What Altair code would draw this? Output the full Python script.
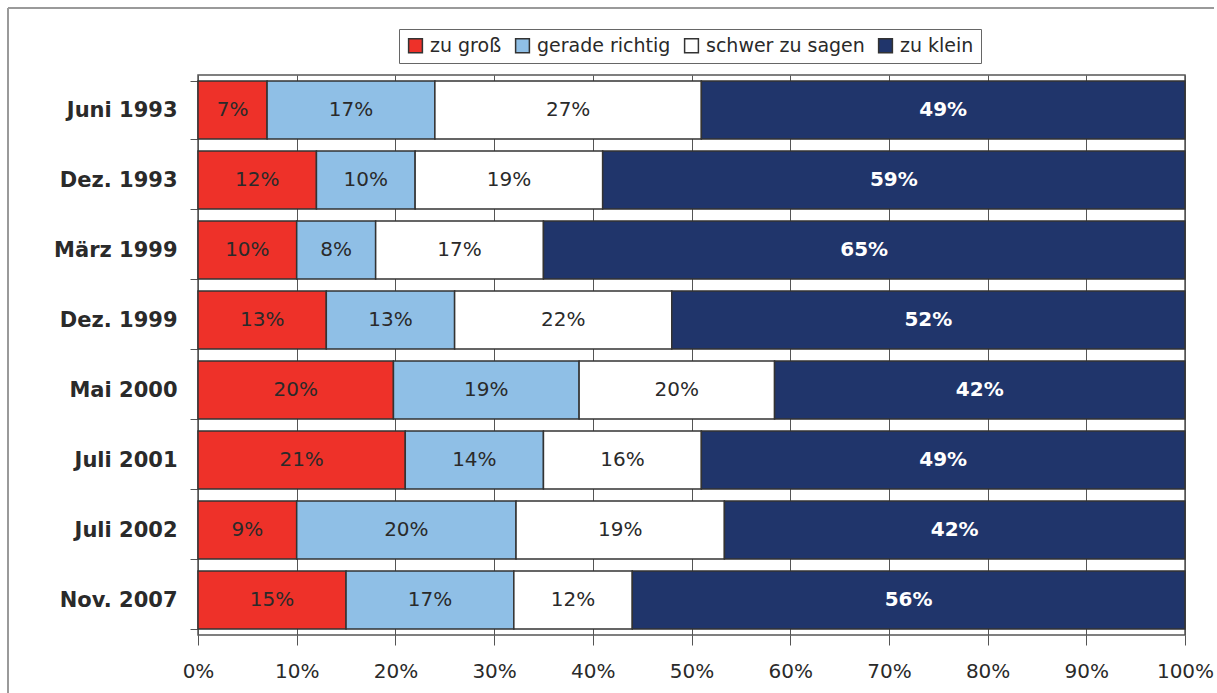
import altair as alt
import pandas as pd

# Survey waves (top to bottom) and answer shares in percent
waves = ["Juni 1993", "Dez. 1993", "März 1999", "Dez. 1999",
         "Mai 2000", "Juli 2001", "Juli 2002", "Nov. 2007"]
zu_gross = [7, 12, 10, 13, 20, 21, 9, 15]
gerade_richtig = [17, 10, 8, 13, 19, 14, 20, 17]
schwer_zu_sagen = [27, 19, 17, 22, 20, 16, 19, 12]
zu_klein = [49, 59, 65, 52, 42, 49, 42, 56]

answers = ["zu groß", "gerade richtig", "schwer zu sagen", "zu klein"]
colors = ["#EE3129", "#8FBFE6", "#FFFFFF", "#20356B"]
series = [zu_gross, gerade_richtig, schwer_zu_sagen, zu_klein]

rows = []
for k, (name, vals) in enumerate(zip(answers, series)):
    for w, v in zip(waves, vals):
        rows.append({"wave": w, "answer": name, "k": k, "value": v})
df = pd.DataFrame(rows)

FONT = "DejaVu Sans"
TEXT = "#2a2a2a"

base = alt.Chart(df)

y_enc = alt.Y(
    "wave:N", sort=waves, title=None,
    scale=alt.Scale(paddingInner=0.17, paddingOuter=0.085),
    axis=alt.Axis(labelFont=FONT, labelFontSize=21, labelFontWeight="bold",
                  labelColor=TEXT, labelPadding=13, tickBand="extent",
                  tickSize=8, tickColor="#555555", domain=False),
)

bars = base.mark_bar(stroke="#333333", strokeWidth=1.5).encode(
    x=alt.X("value:Q", stack="normalize", title=None,
            scale=alt.Scale(domain=[0, 1], nice=False),
            axis=alt.Axis(format=".0%", values=[i / 10 for i in range(11)],
                          labelFont=FONT, labelFontSize=20, labelColor=TEXT,
                          labelPadding=16, labelFlush=False,
                          tickSize=10, tickColor="#555555",
                          grid=True, gridColor="#555555", gridWidth=1,
                          domain=False)),
    y=y_enc,
    color=alt.Color("answer:N", sort=answers,
                    scale=alt.Scale(domain=answers, range=colors),
                    legend=alt.Legend(
                        title=None, orient="none", legendX=201, legendY=-46,
                        direction="horizontal", columns=4,
                        symbolType="square", symbolSize=190,
                        symbolStrokeColor="#333333", symbolStrokeWidth=1.5,
                        symbolOpacity=1, labelFont=FONT, labelFontSize=19,
                        labelColor=TEXT, labelOffset=5, columnPadding=10,
                        strokeColor="#666666", fillColor="white",
                        padding=7)),
    order=alt.Order("k:Q"),
)

# Segment midpoints for the percentage labels
mid = (
    base.transform_joinaggregate(total="sum(value)", groupby=["wave"])
    .transform_window(cum="sum(value)", sort=[alt.SortField("k")],
                      groupby=["wave"], frame=[None, 0])
    .transform_calculate(mid="(datum.cum - datum.value / 2) / datum.total",
                         label="datum.value + '%'")
)

labels_dark = mid.transform_filter("datum.k < 3").mark_text(
    font=FONT, fontSize=20, color=TEXT, baseline="middle", align="center"
).encode(x=alt.X("mid:Q"), y=alt.Y("wave:N", sort=waves), text="label:N")

labels_light = mid.transform_filter("datum.k == 3").mark_text(
    font=FONT, fontSize=20, fontWeight="bold", color="white",
    baseline="middle", align="center"
).encode(x=alt.X("mid:Q"), y=alt.Y("wave:N", sort=waves), text="label:N")

# Outer frame lines (top and left)
one = alt.Chart(pd.DataFrame({"a": [0]}))
frame_top = one.mark_rule(color="#9a9a9a", strokeWidth=2).encode(
    x=alt.value(-190), x2=alt.value(1016), y=alt.value(-67))
frame_left = one.mark_rule(color="#9a9a9a", strokeWidth=2).encode(
    x=alt.value(-190), y=alt.value(-67), y2=alt.value(618))

chart = alt.layer(bars, labels_dark, labels_light, frame_top, frame_left).properties(
    width=987, height=560,
    padding={"left": 7, "top": 7, "right": 0, "bottom": 0},
    background="white",
).configure_view(stroke="#555555", strokeWidth=1.5)

chart.save("out.html", embed_options={"renderer": "svg", "actions": False})
